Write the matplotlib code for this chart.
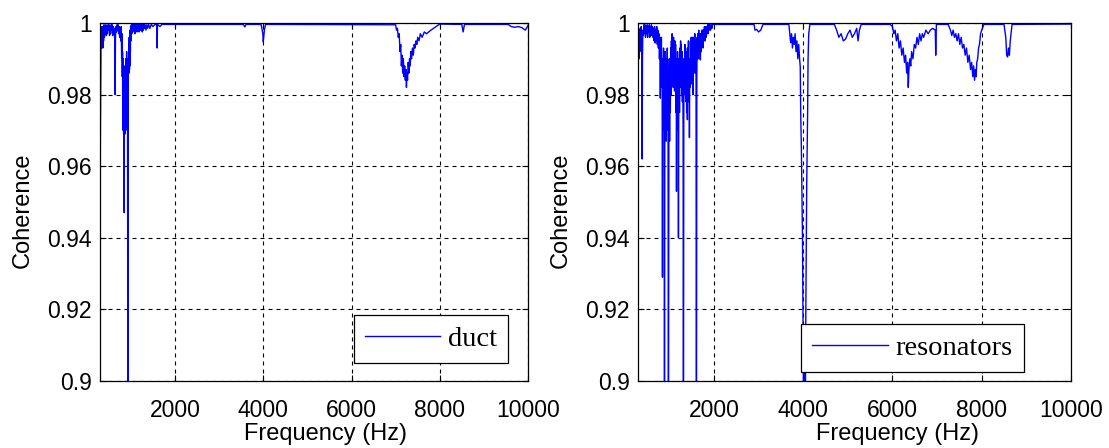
import matplotlib
matplotlib.use('Agg')
import matplotlib.pyplot as plt

# duct coherence
duct_freq = [
    300, 308, 316, 324, 332, 340, 348, 356, 364, 372, 380, 390, 400, 410, 420,
    432, 444, 456, 468, 480, 492, 504, 516, 528, 540, 552, 564, 576, 588, 600,
    612, 624, 636, 642, 650, 662, 674, 686, 698, 710, 722, 734, 746, 758, 770,
    780, 790, 800, 805, 810, 815, 820, 825, 830, 835, 840, 844, 848, 853, 858,
    863, 868, 873, 878, 883, 888, 893, 898, 903, 908, 913, 918, 923, 930, 937,
    942, 947, 952, 957, 962, 967, 972, 977, 982, 988, 994, 1000, 1010, 1020,
    1030, 1042, 1054, 1066, 1078, 1090, 1102, 1114, 1126, 1138, 1150, 1162,
    1174, 1186, 1198, 1210, 1222, 1234, 1246, 1258, 1270, 1282, 1294, 1306,
    1320, 1340, 1360, 1380, 1400, 1430, 1460, 1500, 1540, 1585, 1594, 1603,
    1660, 1700, 3550, 3580, 3610, 3950, 3975, 3990, 4000, 4010, 4025, 4050,
    7000, 7020, 7040, 7060, 7080, 7100, 7115, 7130, 7145, 7160, 7175, 7190,
    7205, 7220, 7235, 7245, 7255, 7270, 7285, 7300, 7315, 7330, 7345, 7360,
    7380, 7400, 7420, 7440, 7460, 7480, 7500, 7530, 7560, 7600, 7650, 7700,
    7800, 7920, 8000, 8500, 8530, 8560, 9550, 9620, 9700, 9780, 9860, 9940,
    10000]
duct_coh = [
    0.928, 0.968, 0.985, 0.998, 0.993, 0.999, 0.994, 0.9985, 0.993, 0.999,
    0.995, 0.9995, 0.996, 0.999, 0.997, 0.9995, 0.9965, 0.999, 0.997, 0.9995,
    0.998, 0.9995, 0.9965, 0.999, 0.997, 0.9995, 0.998, 0.9995, 0.9965, 0.999,
    0.997, 0.9985, 0.994, 0.980, 0.996, 0.999, 0.9975, 0.9995, 0.998, 0.9995,
    0.997, 0.999, 0.996, 0.9985, 0.995, 0.999, 0.990, 0.997, 0.985, 0.992,
    0.974, 0.990, 0.970, 0.988, 0.969, 0.985, 0.975, 0.947, 0.982, 0.970,
    0.988, 0.969, 0.985, 0.972, 0.990, 0.971, 0.988, 0.975, 0.992, 0.973,
    0.988, 0.970, 0.985, 0.880, 0.975, 0.990, 0.986, 0.994, 0.986, 0.996,
    0.987, 0.997, 0.988, 0.998, 0.992, 0.999, 0.995, 0.9995, 0.997, 0.9995,
    0.9975, 0.9995, 0.998, 0.9995, 0.997, 0.9995, 0.998, 0.9995, 0.9975,
    0.9995, 0.998, 0.9995, 0.9975, 0.9995, 0.998, 0.9995, 0.998, 0.9995,
    0.9975, 0.9995, 0.998, 0.9995, 0.9985, 0.9995, 0.998, 0.9995, 0.9985,
    0.9996, 0.9985, 0.9996, 0.999, 0.9996, 0.9995, 0.993, 0.9996, 0.999,
    0.9996, 0.9996, 0.9989, 0.9996, 0.9996, 0.998, 0.997, 0.9947, 0.996,
    0.998, 0.9996, 0.9995, 0.998, 0.9985, 0.996, 0.997, 0.992, 0.994, 0.988,
    0.991, 0.986, 0.990, 0.985, 0.988, 0.984, 0.987, 0.982, 0.986, 0.984,
    0.989, 0.986, 0.990, 0.988, 0.992, 0.990, 0.993, 0.991, 0.994, 0.993,
    0.995, 0.994, 0.996, 0.995, 0.997, 0.996, 0.9975, 0.997, 0.998, 0.999,
    0.9997, 0.9996, 0.9975, 0.9996, 0.9996, 0.999, 0.9988, 0.999, 0.9987,
    0.998, 0.9993]

# resonators coherence
res_freq = [
    300, 306, 312, 318, 324, 332, 340, 350, 360, 372, 384, 392, 400, 408, 420,
    432, 444, 456, 468, 480, 492, 504, 516, 528, 540, 552, 564, 576, 588, 600,
    612, 624, 636, 648, 660, 672, 684, 696, 708, 720, 732, 744, 756, 768, 780,
    792, 800, 808, 816, 824, 832, 840, 848, 856, 864, 872, 880, 886, 893, 900,
    908, 916, 924, 932, 940, 948, 956, 964, 972, 982, 992, 1000, 1008, 1016,
    1024, 1032, 1040, 1048, 1056, 1064, 1072, 1080, 1088, 1096, 1104, 1112,
    1118, 1126, 1134, 1142, 1150, 1156, 1162, 1170, 1178, 1186, 1194, 1200,
    1206, 1214, 1222, 1230, 1238, 1246, 1254, 1262, 1270, 1278, 1286, 1294,
    1302, 1310, 1318, 1326, 1334, 1342, 1350, 1358, 1366, 1374, 1382, 1390,
    1398, 1406, 1414, 1422, 1430, 1438, 1446, 1452, 1460, 1468, 1476, 1484,
    1492, 1500, 1508, 1516, 1524, 1532, 1540, 1548, 1556, 1564, 1572, 1580,
    1590, 1600, 1609, 1618, 1626, 1634, 1642, 1650, 1660, 1670, 1680, 1690,
    1698, 1706, 1716, 1726, 1736, 1746, 1756, 1766, 1776, 1788, 1800, 1812,
    1824, 1836, 1848, 1860, 1872, 1884, 1896, 1910, 1925, 1940, 1955, 1970,
    2900, 2920, 2960, 3000, 3050, 3100, 3680, 3700, 3720, 3740, 3760, 3780,
    3800, 3820, 3840, 3860, 3880, 3900, 3920, 3935, 3945, 3960, 3985, 4000,
    4010, 4030, 4050, 4060, 4080, 4100, 4110, 4125, 4150, 4700, 4750, 4800,
    4850, 4900, 4950, 5000, 5050, 5100, 5150, 5200, 5230, 5260, 5300, 5950,
    6000, 6030, 6060, 6090, 6120, 6150, 6180, 6210, 6240, 6270, 6295, 6320,
    6340, 6355, 6370, 6390, 6410, 6430, 6460, 6490, 6520, 6550, 6580, 6610,
    6640, 6670, 6700, 6750, 6800, 6850, 6900, 6960, 6970, 6985, 7250, 7300,
    7330, 7360, 7390, 7420, 7450, 7480, 7510, 7540, 7570, 7600, 7630, 7660,
    7690, 7720, 7750, 7775, 7800, 7820, 7840, 7860, 7875, 7890, 7910, 7930,
    7950, 7975, 8000, 8050, 8500, 8540, 8560, 8580, 8600, 8620, 8640, 8680,
    10000]
res_coh = [
    0.990, 0.997, 0.991, 0.996, 0.990, 0.998, 0.992, 0.9985, 0.994, 0.999,
    0.990, 0.962, 0.990, 0.998, 0.9965, 0.9995, 0.997, 0.9995, 0.996, 0.999,
    0.997, 0.9995, 0.996, 0.999, 0.9975, 0.9995, 0.996, 0.999, 0.997, 0.9995,
    0.9965, 0.999, 0.996, 0.9985, 0.995, 0.999, 0.9944, 0.998, 0.995, 0.999,
    0.994, 0.998, 0.993, 0.997, 0.990, 0.996, 0.979, 0.994, 0.985, 0.996,
    0.982, 0.990, 0.929, 0.990, 0.975, 0.993, 0.970, 0.985, 0.870, 0.970,
    0.992, 0.975, 0.988, 0.967, 0.990, 0.975, 0.993, 0.970, 0.985, 0.870,
    0.975, 0.990, 0.967, 0.988, 0.975, 0.993, 0.980, 0.995, 0.985, 0.997,
    0.985, 0.994, 0.982, 0.996, 0.985, 0.993, 0.981, 0.995, 0.984, 0.994,
    0.975, 0.990, 0.953, 0.988, 0.970, 0.992, 0.975, 0.985, 0.940, 0.980,
    0.990, 0.975, 0.993, 0.982, 0.995, 0.985, 0.994, 0.980, 0.992, 0.978,
    0.990, 0.970, 0.870, 0.975, 0.990, 0.980, 0.994, 0.982, 0.993, 0.978,
    0.992, 0.975, 0.990, 0.973, 0.993, 0.982, 0.995, 0.978, 0.990, 0.968,
    0.990, 0.982, 0.995, 0.985, 0.996, 0.983, 0.995, 0.986, 0.996, 0.980,
    0.994, 0.986, 0.996, 0.988, 0.997, 0.986, 0.995, 0.985, 0.870, 0.985,
    0.996, 0.990, 0.997, 0.990, 0.998, 0.991, 0.997, 0.990, 0.9897, 0.997,
    0.992, 0.998, 0.994, 0.998, 0.993, 0.998, 0.995, 0.999, 0.995, 0.999,
    0.996, 0.999, 0.997, 0.9995, 0.997, 0.9995, 0.998, 0.9995, 0.998, 0.9995,
    0.9985, 0.9996, 0.9996, 0.998, 0.9982, 0.9975, 0.998, 0.9996, 0.9996,
    0.997, 0.9945, 0.997, 0.993, 0.996, 0.994, 0.997, 0.992, 0.995, 0.990,
    0.994, 0.990, 0.9877, 0.975, 0.965, 0.940, 0.910, 0.890, 0.905, 0.893,
    0.920, 0.955, 0.975, 0.990, 0.997, 0.9996, 0.9996, 0.998, 0.996, 0.997,
    0.995, 0.9955, 0.997, 0.998, 0.996, 0.997, 0.9985, 0.995, 0.998, 0.9996,
    0.9996, 0.999, 0.997, 0.998, 0.995, 0.997, 0.993, 0.995, 0.991, 0.993,
    0.989, 0.991, 0.986, 0.989, 0.982, 0.987, 0.990, 0.988, 0.992, 0.990,
    0.994, 0.993, 0.996, 0.994, 0.997, 0.995, 0.997, 0.996, 0.998, 0.997,
    0.998, 0.9985, 0.998, 0.991, 0.9996, 0.9996, 0.998, 0.9965, 0.998, 0.996,
    0.997, 0.995, 0.997, 0.994, 0.996, 0.993, 0.994, 0.991, 0.993, 0.989,
    0.991, 0.987, 0.989, 0.985, 0.988, 0.984, 0.987, 0.985, 0.989, 0.990,
    0.993, 0.994, 0.997, 0.998, 0.9996, 0.9996, 0.996, 0.991, 0.9905, 0.993,
    0.991, 0.995, 0.9996, 0.9997]

XLIM = (300, 10000)
YLIM = (0.9, 1.0)
XTICKS = [2000, 4000, 6000, 8000, 10000]
YTICKS = [0.9, 0.92, 0.94, 0.96, 0.98, 1.0]
YTICKLABELS = ['0.9', '0.92', '0.94', '0.96', '0.98', '1']

SANS = 'Liberation Sans'
SERIF = 'Liberation Serif'


def style_axes(ax, xlab_x, ylab_x):
    ax.set_xlim(*XLIM)
    ax.set_ylim(*YLIM)
    ax.set_xticks(XTICKS)
    ax.set_xticklabels([str(t) for t in XTICKS])
    ax.set_yticks(YTICKS)
    ax.set_yticklabels(YTICKLABELS)
    for lab in ax.get_xticklabels() + ax.get_yticklabels():
        lab.set_family(SANS)
        lab.set_fontsize(16.5)
    ax.tick_params(axis='both', direction='in', length=4, width=0.8,
                   top=True, right=True, color='black')
    ax.tick_params(axis='x', pad=13)
    ax.tick_params(axis='y', pad=6)
    ax.grid(True, color='black', linestyle=(0, (3.6, 3.6)), linewidth=0.8)
    for sp in ax.spines.values():
        sp.set_linewidth(0.9)
        sp.set_color('black')
    ax.set_xlabel('Frequency (Hz)', family=SANS, fontsize=17)
    ax.set_ylabel('Coherence', family=SANS, fontsize=17)
    ax.xaxis.set_label_coords(xlab_x, -0.118)
    ax.yaxis.set_label_coords(ylab_x, 0.478)


def add_legend(ax, fig, anchor):
    leg = ax.legend(loc='lower right', bbox_to_anchor=anchor,
                    bbox_transform=fig.transFigure, borderaxespad=0,
                    fancybox=False, framealpha=1, edgecolor='black',
                    prop={'family': SERIF, 'size': 20.5}, handlelength=2.65,
                    handletextpad=0.28, borderpad=0.38)
    leg.get_frame().set_linewidth(0.9)


def main():
    fig = plt.figure(figsize=(11.09, 4.48), dpi=100)

    ax1 = fig.add_axes([0.0902, 0.1496, 0.3859, 0.7991])
    ax1.plot(duct_freq, duct_coh, color='blue', linewidth=1.0, label='duct')
    style_axes(ax1, 0.528, -0.155)
    add_legend(ax1, fig, (0.458, 0.190))

    ax2 = fig.add_axes([0.5753, 0.1496, 0.3904, 0.7991])
    ax2.plot(res_freq, res_coh, color='blue', linewidth=1.0, label='resonators')
    style_axes(ax2, 0.600, -0.153)
    add_legend(ax2, fig, (0.923, 0.170))

    fig.savefig('out.png', dpi=100)


if __name__ == '__main__':
    main()
